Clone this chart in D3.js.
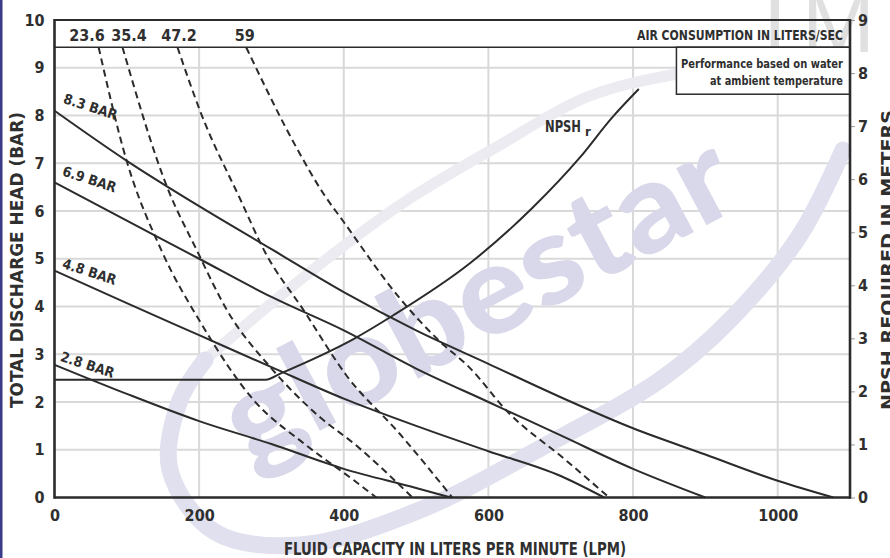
<!DOCTYPE html>
<html><head><meta charset="utf-8">
<script src="https://cdn.jsdelivr.net/npm/d3@7"></script>
<style>
html,body{margin:0;padding:0;background:#fff;}
svg{display:block;}
text{font-family:"Liberation Sans Narrow","DejaVu Sans Condensed","Roboto Condensed","Liberation Sans",sans-serif;font-weight:bold;fill:#2f2f2f;}
</style></head><body>
<svg id="c" width="890" height="558"></svg>
<script>
// ---------- data ----------
const flowTicks = [0, 200, 400, 600, 800, 1000];
const headTicks = [0, 1, 2, 3, 4, 5, 6, 7, 8, 9, 10];
const npshTicks = [0, 1, 2, 3, 4, 5, 6, 7, 8, 9];
const airLabels = ["23.6", "35.4", "47.2", "59"];
const airLabelFlow = [45, 103, 172, 263];
const barLabels = ["8.3 BAR", "6.9 BAR", "4.8 BAR", "2.8 BAR"];

// head (bar) vs flow (lpm)
const bar83 = [[0,8.1],[100,7.05],[200,6.1],[300,5.2],[400,4.3],[500,3.5],[600,2.8],[700,2.1],[800,1.45],[900,0.9],[1000,0.35],[1077,0]];
const bar69 = [[0,6.6],[100,5.8],[200,5.0],[300,4.2],[400,3.5],[500,2.7],[600,2.0],[700,1.3],[800,0.6],[900,0]];
const bar48 = [[0,4.75],[100,4.07],[200,3.4],[300,2.73],[400,2.07],[500,1.5],[600,0.97],[700,0.45],[760,0]];
const bar28 = [[0,2.78],[100,2.17],[200,1.6],[300,1.12],[400,0.6],[500,0.2],[548,0]];

// air consumption lines (dashed)
const air236 = [[61,9.43],[99,7.09],[148,5.17],[203,3.64],[276,2.03],[345,1.13],[414,0.36],[445,0]];
const air354 = [[94,9.43],[156,6.49],[197,5.17],[239,3.91],[299,2.72],[368,1.67],[414,1.13],[495,0]];
const air472 = [[170,9.43],[203,8.03],[258,6.21],[290,5.17],[345,3.91],[404,2.55],[477,1.34],[550,0]];
const air590 = [[265,9.43],[337,7.26],[372,6.36],[399,5.79],[477,4.18],[532,3.28],[574,2.72],[625,1.82],[708,0.77],[767,0]];

// NPSH required (m, right axis) vs flow
const npshR = [[0,2.22],[292,2.22],[313,2.34],[414,2.99],[468,3.43],[574,4.41],[661,5.46],[726,6.40],[771,7.16],[808,7.70]];

// ---------- layout ----------
const svg = d3.select("#c");
const L = 54.5, R = 850, T = 20, B = 497.5;
const x = d3.scaleLinear().domain([0, 1100]).range([L, R]);
const y = d3.scaleLinear().domain([0, 10]).range([B, T]);
const yR = d3.scaleLinear().domain([0, 9]).range([B, T]);
const headerBottom = 9.43;
const ink = "#2b2b2b";

// left navy border
svg.append("rect").attr("x", 0).attr("y", 0).attr("width", 2.5).attr("height", 558).attr("fill", "#3b3b8a");

// grid
const grid = svg.append("g").attr("stroke", "#d9d9d9").attr("stroke-width", 2);
grid.selectAll(".h").data(headTicks.filter(d => d > 0 && d < headerBottom)).join("line")
  .attr("x1", L).attr("x2", R).attr("y1", d => y(d)).attr("y2", d => y(d));
grid.selectAll(".v").data(flowTicks.filter(d => d > 0)).join("line")
  .attr("x1", d => x(d)).attr("x2", d => x(d)).attr("y1", y(headerBottom)).attr("y2", B);

// watermark
const wm = svg.append("g");
const wline = d3.line().curve(d3.curveCatmullRom);
wm.append("path").attr("d", wline([[205,360],[300,280],[400,205],[500,145],[587,97],[677,74],[770,64]]))
  .attr("fill", "none").attr("stroke", "#ebebf1").attr("stroke-width", 11).attr("stroke-linecap", "round");
wm.append("path").attr("d", wline([[843,150],[800,235],[730,320],[660,380],[550,443],[420,510],[300,545],[215,532],[170,470],[180,400],[205,360]]))
  .attr("fill", "none").attr("stroke", "#e0e0ee").attr("stroke-width", 17).attr("stroke-linecap", "round");
wm.append("text").text("globestar").attr("transform", "translate(250,468) rotate(-28)")
  .attr("font-size", 125).attr("textLength", 560).attr("lengthAdjust", "spacingAndGlyphs")
  .style("fill", "#d8d8ea").style("font-family", "Lato, 'Open Sans', sans-serif").style("font-weight", "900");

// header band
svg.append("rect").attr("x", L).attr("y", T).attr("width", R - L).attr("height", y(headerBottom) - T).attr("fill", "#fff");
svg.append("text").text("TM").attr("x", 748).attr("y", 52).attr("font-size", 88)
  .style("fill", "#e0e0e0").style("font-family", "'Liberation Sans', sans-serif").style("font-weight", "normal");
svg.append("line").attr("x1", L).attr("x2", R).attr("y1", y(headerBottom)).attr("y2", y(headerBottom))
  .attr("stroke", ink).attr("stroke-width", 1.6);
svg.selectAll(".air").data(airLabels).join("text")
  .attr("x", (d, i) => x(airLabelFlow[i])).attr("y", 41).attr("text-anchor", "middle").attr("font-size", 16).text(d => d);
svg.append("text").attr("x", 843).attr("y", 40).attr("text-anchor", "end").attr("font-size", 14)
  .attr("textLength", 206).attr("lengthAdjust", "spacingAndGlyphs").text("AIR CONSUMPTION IN LITERS/SEC");

// performance box
svg.append("rect").attr("x", x(860)).attr("y", y(headerBottom)).attr("width", R - x(860)).attr("height", 47)
  .attr("fill", "#fff").attr("stroke", ink).attr("stroke-width", 1.5);
svg.append("text").attr("x", 843).attr("y", 68).attr("text-anchor", "end").attr("font-size", 13)
  .attr("textLength", 162).attr("lengthAdjust", "spacingAndGlyphs").text("Performance based on water");
svg.append("text").attr("x", 843).attr("y", 85).attr("text-anchor", "end").attr("font-size", 13)
  .attr("textLength", 133).attr("lengthAdjust", "spacingAndGlyphs").text("at ambient temperature");

// curves
const line = d3.line().x(d => x(d[0])).y(d => y(d[1])).curve(d3.curveMonotoneX);
const lineR = d3.line().x(d => x(d[0])).y(d => yR(d[1])).curve(d3.curveMonotoneX);
const curves = svg.append("g").attr("fill", "none").attr("stroke", ink).attr("stroke-width", 2);
[bar83, bar69, bar48, bar28].forEach(s => curves.append("path").attr("d", line(s)));
[air236, air354, air472, air590].forEach(s => curves.append("path").attr("d", line(s)).attr("stroke-dasharray", "7,4.5"));
curves.append("path").attr("d", lineR(npshR));

// bar labels
const barStarts = [bar83, bar69, bar48, bar28].map(s => s[0][1]);
const labelOff = [[8, -8], [7, -7], [7, -3], [5, -4]];
svg.selectAll(".bl").data(barLabels).join("text")
  .attr("transform", (d, i) => `translate(${x(0) + labelOff[i][0]},${y(barStarts[i]) + labelOff[i][1]}) rotate(18)`)
  .attr("font-size", 14).text(d => d);

// NPSH label
svg.append("text").attr("x", 545).attr("y", 132).attr("font-size", 16)
  .attr("textLength", 36).attr("lengthAdjust", "spacingAndGlyphs").text("NPSH");
svg.append("text").attr("x", 585).attr("y", 136).attr("font-size", 13).text("r");

// axes
const ax = svg.append("g").attr("transform", `translate(0,${B})`)
  .call(d3.axisBottom(x).tickValues(flowTicks).tickFormat(d3.format("d")).tickSize(0).tickPadding(12));
ax.select(".domain").remove();
ax.selectAll("text").attr("font-size", 16).attr("font-family", null).attr("fill", null);

const ay = svg.append("g").attr("transform", `translate(${L},0)`)
  .call(d3.axisLeft(y).tickValues(headTicks).tickSize(0).tickPadding(10));
ay.select(".domain").remove();
ay.selectAll("text").attr("font-size", 16).attr("font-family", null).attr("fill", null);

const ar = svg.append("g").attr("transform", `translate(${R},0)`)
  .call(d3.axisRight(yR).tickValues(npshTicks).tickSize(5).tickPadding(3));
ar.select(".domain").remove();
ar.selectAll("line").attr("stroke", "#9a9a9a").attr("stroke-width", 1);
ar.selectAll("text").attr("font-size", 16).attr("font-family", null).attr("fill", null);

// frame
const fr = svg.append("g").attr("stroke", ink).attr("fill", "none");
fr.append("line").attr("x1", L).attr("x2", L).attr("y1", T - 1).attr("y2", B + 1.2).attr("stroke-width", 2.6);
fr.append("line").attr("x1", R).attr("x2", R).attr("y1", T - 1).attr("y2", B + 1.2).attr("stroke-width", 2.6);
fr.append("line").attr("x1", L).attr("x2", R).attr("y1", B).attr("y2", B).attr("stroke-width", 2.6);
fr.append("line").attr("x1", L).attr("x2", R).attr("y1", T).attr("y2", T).attr("stroke-width", 2);

// titles
svg.append("text").attr("x", 455).attr("y", 555).attr("text-anchor", "middle").attr("font-size", 17)
  .attr("textLength", 342).attr("lengthAdjust", "spacingAndGlyphs").text("FLUID CAPACITY IN LITERS PER MINUTE (LPM)");
svg.append("text").attr("transform", "translate(23,260) rotate(-90)").attr("text-anchor", "middle").attr("font-size", 17)
  .attr("textLength", 296).attr("lengthAdjust", "spacingAndGlyphs").text("TOTAL DISCHARGE HEAD (BAR)");
svg.append("text").attr("transform", "translate(894,260) rotate(-90)").attr("text-anchor", "middle").attr("font-size", 17)
  .attr("textLength", 300).attr("lengthAdjust", "spacingAndGlyphs").text("NPSH REQUIRED IN METERS");
</script>
</body></html>
